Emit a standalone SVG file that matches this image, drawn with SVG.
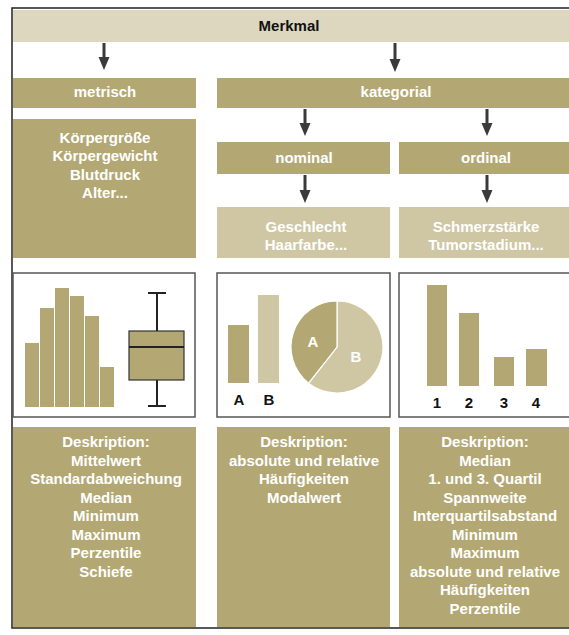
<svg xmlns="http://www.w3.org/2000/svg" width="569" height="635" viewBox="0 0 569 635">
<defs>
<style>
.t{font-family:"Liberation Sans",Arial,sans-serif;font-weight:bold;font-size:15px;text-anchor:middle}
.w{fill:#ffffff}
.k{fill:#111111}
.dk{fill:#b3a873}
.lt{fill:#cfc7a3}
.hd{fill:#ddd7bf}
.chart{fill:#ffffff;stroke:#555555;stroke-width:1.5}
.conn{stroke:#3a3a3a;stroke-width:3;fill:none}
</style>
<marker id="ah" markerWidth="5" markerHeight="4" refX="2.5" refY="2" orient="auto" markerUnits="strokeWidth">
<path d="M0,0.1 L4.5,2 L0,3.9 Z" fill="#3a3a3a"/>
</marker>
</defs>
<rect width="569" height="635" fill="#ffffff"/>
<g id="frame">
<path d="M569,8 L12,8 L12,628 L569,628" fill="none" stroke="#222222" stroke-width="1.5"/>
</g>
<g id="merkmal">
<rect class="hd" x="13" y="10" width="556" height="32"/>
<text class="t k" x="289" y="31" font-size="14">Merkmal</text>
</g>
<g id="metrisch">
<rect class="dk" x="13" y="78" width="183" height="30"/>
<text class="t w" x="105" y="97">metrisch</text>
</g>
<g id="kategorial">
<rect class="dk" x="217" y="78" width="352" height="30"/>
<text class="t w" x="396" y="97">kategorial</text>
</g>
<g id="metrisch-beispiele">
<rect class="dk" x="13" y="119" width="183" height="139"/>
<text class="t w" x="105" y="143">Körpergröße</text>
<text class="t w" x="105" y="161">Körpergewicht</text>
<text class="t w" x="105" y="180">Blutdruck</text>
<text class="t w" x="105" y="198">Alter...</text>
</g>
<g id="nominal">
<rect class="dk" x="217" y="142" width="173" height="32"/>
<text class="t w" x="304" y="163">nominal</text>
</g>
<g id="ordinal">
<rect class="dk" x="399" y="142" width="170" height="32"/>
<text class="t w" x="486" y="163">ordinal</text>
</g>
<g id="nominal-beispiele">
<rect class="lt" x="217" y="207" width="173" height="51"/>
<text class="t w" x="306" y="232">Geschlecht</text>
<text class="t w" x="306" y="250">Haarfarbe...</text>
</g>
<g id="ordinal-beispiele">
<rect class="lt" x="399" y="207" width="170" height="51"/>
<text class="t w" x="486" y="232">Schmerzstärke</text>
<text class="t w" x="486" y="250">Tumorstadium...</text>
</g>
<g id="metrisch-grafik">
<rect class="chart" x="13" y="273" width="182" height="144"/>
<rect class="dk" x="25" y="343" width="14" height="64"/>
<rect class="dk" x="40" y="308" width="14" height="99"/>
<rect class="dk" x="55" y="288" width="14" height="119"/>
<rect class="dk" x="70" y="296" width="14" height="111"/>
<rect class="dk" x="85" y="316" width="14" height="91"/>
<rect class="dk" x="100" y="367" width="14" height="40"/>
<path d="M157,293 V331 M157,380 V406 M148,293 H166 M148,406 H166" stroke="#222222" stroke-width="2" fill="none"/>
<rect x="129" y="331" width="55" height="49" fill="#b3a873" stroke="#333333" stroke-width="1.2"/>
<line x1="129" y1="347" x2="184" y2="347" stroke="#222222" stroke-width="2"/>
</g>
<g id="nominal-grafik">
<rect class="chart" x="217" y="273" width="173" height="144"/>
<rect class="dk" x="228" y="325" width="21" height="58"/>
<rect class="lt" x="258" y="295" width="21" height="88"/>
<text class="t k" x="239" y="405">A</text>
<text class="t k" x="269" y="405">B</text>
<path d="M337,347 L337,301 A46,46 0 1,1 308.6,383.2 Z" fill="#cfc7a3" stroke="#ffffff" stroke-width="1.2"/>
<path d="M337,347 L337,301 A46,46 0 0,0 308.6,383.2 Z" fill="#b3a873" stroke="#ffffff" stroke-width="1.2"/>
<text class="t w" x="313" y="347">A</text>
<text class="t w" x="356" y="362">B</text>
</g>
<g id="ordinal-grafik">
<rect class="chart" x="399" y="273" width="175" height="144"/>
<rect class="dk" x="427" y="285" width="20" height="101"/>
<rect class="dk" x="459" y="313" width="20" height="73"/>
<rect class="dk" x="494" y="357" width="20" height="29"/>
<rect class="dk" x="526" y="349" width="21" height="37"/>
<text class="t k" x="437" y="408">1</text>
<text class="t k" x="469" y="408">2</text>
<text class="t k" x="504" y="408">3</text>
<text class="t k" x="536" y="408">4</text>
</g>
<g id="metrisch-deskription">
<rect class="dk" x="13" y="427" width="183" height="200"/>
<text class="t w" x="106" y="447">Deskription:</text>
<text class="t w" x="106" y="465.5">Mittelwert</text>
<text class="t w" x="106" y="484">Standardabweichung</text>
<text class="t w" x="106" y="502.5">Median</text>
<text class="t w" x="106" y="521">Minimum</text>
<text class="t w" x="106" y="539.5">Maximum</text>
<text class="t w" x="106" y="558">Perzentile</text>
<text class="t w" x="106" y="576.5">Schiefe</text>
</g>
<g id="nominal-deskription">
<rect class="dk" x="217" y="427" width="173" height="200"/>
<text class="t w" x="304" y="447">Deskription:</text>
<text class="t w" x="304" y="465.5">absolute und relative</text>
<text class="t w" x="304" y="484">Häufigkeiten</text>
<text class="t w" x="304" y="502.5">Modalwert</text>
</g>
<g id="ordinal-deskription">
<rect class="dk" x="399" y="427" width="170" height="200"/>
<text class="t w" x="485" y="447">Deskription:</text>
<text class="t w" x="485" y="465.5">Median</text>
<text class="t w" x="485" y="484">1. und 3. Quartil</text>
<text class="t w" x="485" y="502.5">Spannweite</text>
<text class="t w" x="485" y="521">Interquartilsabstand</text>
<text class="t w" x="485" y="539.5">Minimum</text>
<text class="t w" x="485" y="558">Maximum</text>
<text class="t w" x="485" y="576.5">absolute und relative</text>
<text class="t w" x="485" y="595">Häufigkeiten</text>
<text class="t w" x="485" y="613.5">Perzentile</text>
</g>
<g id="connectors">
<line class="conn" x1="104" y1="43" x2="104" y2="64" marker-end="url(#ah)"/>
<line class="conn" x1="395" y1="43" x2="395" y2="66" marker-end="url(#ah)"/>
<line class="conn" x1="305" y1="109" x2="305" y2="130" marker-end="url(#ah)"/>
<line class="conn" x1="487" y1="109" x2="487" y2="130" marker-end="url(#ah)"/>
<line class="conn" x1="305" y1="175" x2="305" y2="197" marker-end="url(#ah)"/>
<line class="conn" x1="487" y1="175" x2="487" y2="197" marker-end="url(#ah)"/>
</g>
</svg>
